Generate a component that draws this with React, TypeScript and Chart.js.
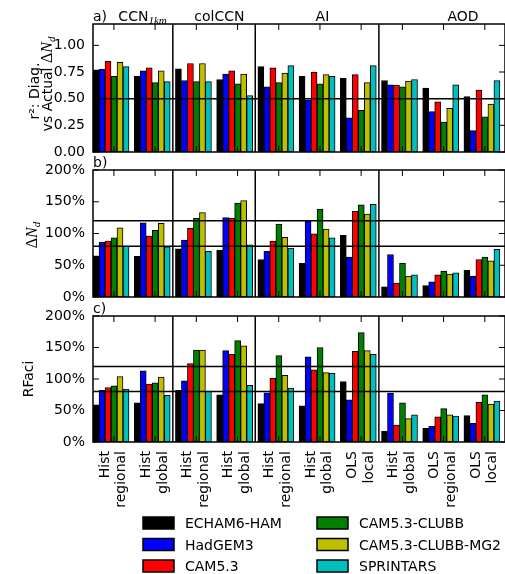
import React, { useEffect, useRef } from "react";
import { Chart, registerables } from "chart.js";

Chart.register(...registerables);

// ---------------- data ----------------
const models = ["ECHAM6-HAM", "HadGEM3", "CAM5.3", "CAM5.3-CLUBB", "CAM5.3-CLUBB-MG2", "SPRINTARS"];
const modelColors = ["#000000", "#0000ff", "#ff0000", "#008000", "#bfbf00", "#00bfbf"];

const methods: string[][] = [
  ["Hist", "regional"],
  ["Hist", "global"],
  ["Hist", "regional"],
  ["Hist", "global"],
  ["Hist", "regional"],
  ["Hist", "global"],
  ["OLS", "local"],
  ["Hist", "global"],
  ["OLS", "regional"],
  ["OLS", "local"],
];

const sectionNames = ["CCN", "colCCN", "AI", "AOD"];
const sectionBreaks = [1.5, 3.5, 6.5];

// r^2 diagnosed vs actual dNd (panel a), one row per model
const r2ByModel: number[][] = [
  [0.77, 0.71, 0.78, 0.68, 0.8, 0.71, 0.69, 0.67, 0.6, 0.52],
  [0.775, 0.76, 0.67, 0.73, 0.61, 0.49, 0.32, 0.63, 0.38, 0.2],
  [0.85, 0.79, 0.83, 0.76, 0.79, 0.75, 0.725, 0.625, 0.47, 0.58],
  [0.71, 0.65, 0.66, 0.64, 0.65, 0.64, 0.39, 0.61, 0.28, 0.33],
  [0.84, 0.76, 0.83, 0.73, 0.74, 0.725, 0.65, 0.665, 0.41, 0.45],
  [0.8, 0.66, 0.66, 0.53, 0.81, 0.71, 0.81, 0.68, 0.63, 0.67],
];

// dNd (panel b), percent
const dNdByModel: number[][] = [
  [65, 64, 76, 74, 59, 53, 97, 16, 18, 42],
  [86, 117, 89.5, 125, 72, 119.5, 63, 67, 24, 33],
  [88, 96, 108, 124, 88, 99.5, 135, 22, 35, 59],
  [93, 105, 124, 148, 115, 138, 145, 53, 41, 63],
  [109, 116, 133, 152, 94, 107, 130.5, 33, 36, 57],
  [80, 79, 72, 82, 77, 93, 146, 35, 38, 75],
];

// RFaci (panel c), percent
const rfaciByModel: number[][] = [
  [59, 62, 82, 75, 61, 57.5, 96, 17, 21.6, 42],
  [82, 113, 97, 145, 78, 135, 67, 77.5, 25, 29.5],
  [86.5, 92, 124.5, 139, 101, 114.5, 144, 27, 40, 63],
  [89, 94, 146, 161, 137, 150, 173.6, 62, 53, 75],
  [104, 103, 146, 152.5, 106, 110, 145, 37, 43, 60],
  [84, 74, 81, 90, 85.5, 109, 139, 43, 41, 65],
];

const r2RefLines = [0.5];
const pctRefLines = [80, 120];

// ---------------- style / layout ----------------
const W = 505;
const H = 574;
const Y_AXIS_WIDTH = 93;
const X_MIN = -0.437;
const X_MAX = 9.56;
const LABEL_SHIFT = -0.146;
const TICK_SHIFT = 0.07;
const SECTION_LABEL_POS = [0.765, 2.63, 5.13, 8.54];
const SANS = "'DejaVu Sans'";
const SERIF = "'Liberation Serif'";
const F = (size: number, italic = false, fam = SANS) => `${italic ? "italic " : ""}${size}px ${fam}`;

type Run = { t: string; font: string; dy?: number };
type TitleLine = { runs: Run[]; x: number; y: number };

const deltaNd = (size: number, sub: number): Run[] => [
  { t: "Δ", font: F(size, false, SERIF) },
  { t: "N", font: F(size, true, SERIF) },
  { t: "d", font: F(sub, true, SERIF), dy: 3 },
];

interface Panel {
  values: number[][];
  yMax: number;
  yStep: number;
  fmt: (v: number) => string;
  refs: number[];
  top: number;
  bottom: number;
  letter: string;
  yTitle: TitleLine[];
  showX: boolean;
  sections: boolean;
  legend: boolean;
}

function drawRuns(ctx: CanvasRenderingContext2D, runs: Run[], x: number, y: number, rotated: boolean, center: boolean) {
  ctx.save();
  ctx.translate(x, y);
  if (rotated) ctx.rotate(-Math.PI / 2);
  ctx.textBaseline = "alphabetic";
  ctx.textAlign = "left";
  ctx.fillStyle = "#000";
  const widths = runs.map((r) => {
    ctx.font = r.font;
    return ctx.measureText(r.t).width;
  });
  const total = widths.reduce((a, b) => a + b, 0);
  let cx = center ? -total / 2 : 0;
  runs.forEach((r, i) => {
    ctx.font = r.font;
    ctx.fillText(r.t, cx, r.dy || 0);
    cx += widths[i];
  });
  ctx.restore();
}

function makePlugin(p: Panel) {
  const line = (ctx: CanvasRenderingContext2D, x1: number, y1: number, x2: number, y2: number) => {
    ctx.beginPath();
    ctx.moveTo(x1, y1);
    ctx.lineTo(x2, y2);
    ctx.stroke();
  };
  return {
    id: "frame",
    afterDatasetsDraw(chart: any) {
      const { ctx, chartArea: a, scales } = chart;
      const xs = scales.x;
      const ys = scales.y;
      ctx.save();
      ctx.strokeStyle = "#000";
      ctx.lineWidth = 1.5;
      p.refs.forEach((v) => {
        const py = ys.getPixelForValue(v);
        line(ctx, a.left, py, a.right, py);
      });
      sectionBreaks.forEach((v) => {
        const px = xs.getPixelForValue(v);
        line(ctx, px, a.top, px, a.bottom);
      });
      ctx.lineWidth = 1;
      ys.ticks.forEach((t: any) => {
        const py = ys.getPixelForValue(t.value);
        line(ctx, a.left, py, a.left + 6, py);
        line(ctx, a.right - 6, py, a.right, py);
      });
      methods.forEach((_, i) => {
        const px = xs.getPixelForValue(i + TICK_SHIFT);
        line(ctx, px, a.top, px, a.top + 6);
        line(ctx, px, a.bottom - 6, px, a.bottom);
      });
      ctx.lineWidth = 1.5;
      ctx.strokeRect(a.left, a.top, a.right - a.left, a.bottom - a.top);
      ctx.restore();
    },
    afterDraw(chart: any) {
      const { ctx, chartArea: a, scales } = chart;
      const xs = scales.x;
      ctx.save();
      // panel letter
      drawRuns(ctx, [{ t: p.letter, font: F(14) }], a.left, a.top - 3, false, false);
      // y title
      p.yTitle.forEach((l) => drawRuns(ctx, l.runs, l.x, l.y, true, true));
      // section titles
      if (p.sections) {
        sectionNames.forEach((name, i) => {
          const px = xs.getPixelForValue(SECTION_LABEL_POS[i]);
          const runs: Run[] =
            i === 0
              ? [
                  { t: name, font: F(14) },
                  { t: "1km", font: F(11, true, SERIF), dy: 3 },
                ]
              : [{ t: name, font: F(14) }];
          drawRuns(ctx, runs, px, a.top - 3, false, true);
        });
      }
      // legend
      if (p.legend) {
        const colX = [143, 317];
        const rowY = [523, 544.5, 566];
        models.forEach((m, i) => {
          const col = Math.floor(i / 3);
          const row = i % 3;
          const bx = colX[col];
          const cy = rowY[row];
          ctx.fillStyle = modelColors[i];
          ctx.fillRect(bx, cy - 6, 31, 12);
          ctx.strokeStyle = "#000";
          ctx.lineWidth = 1.5;
          ctx.strokeRect(bx, cy - 6, 31, 12);
          drawRuns(ctx, [{ t: m, font: F(14) }], bx + 42, cy + 5, false, false);
        });
      }
      ctx.restore();
    },
  };
}

function buildConfig(p: Panel): any {
  return {
    type: "bar",
    data: {
      datasets: models.map((m, mi) => ({
        label: m,
        data: p.values[mi].map((v, i) => ({ x: i, y: v })),
        backgroundColor: modelColors[mi],
        borderColor: "#000000",
        borderWidth: 1,
        borderSkipped: false,
        barThickness: 6,
      })),
    },
    options: {
      responsive: false,
      animation: false,
      devicePixelRatio: 1,
      layout: { padding: { top: p.top, bottom: p.showX ? 0 : H - p.bottom, left: 0, right: 0 } },
      plugins: { legend: { display: false }, tooltip: { enabled: false }, title: { display: false } },
      scales: {
        x: {
          type: "linear",
          min: X_MIN,
          max: X_MAX,
          offset: false,
          bounds: "data",
          display: p.showX,
          grid: { display: false, drawTicks: false, offset: false },
          border: { display: false },
          afterBuildTicks: (s: any) => {
            s.ticks = methods.map((_, i) => ({ value: i + LABEL_SHIFT }));
          },
          afterFit: (s: any) => {
            s.paddingLeft = 0;
            s.paddingRight = 0;
            if (p.showX) s.height = H - p.bottom;
          },
          ticks: {
            autoSkip: false,
            minRotation: 90,
            maxRotation: 90,
            padding: 9,
            color: "#000",
            font: { family: "DejaVu Sans", size: 14 },
            callback: (_v: any, i: number) => methods[i],
          },
        },
        y: {
          min: 0,
          max: p.yMax,
          grid: { display: false, drawTicks: false },
          border: { display: false },
          afterFit: (s: any) => {
            s.width = Y_AXIS_WIDTH;
            s.paddingTop = 0;
            s.paddingBottom = 0;
          },
          ticks: {
            stepSize: p.yStep,
            includeBounds: false,
            padding: 8,
            color: "#000",
            font: { family: "DejaVu Sans", size: 14 },
            callback: (v: any) => p.fmt(Number(v)),
          },
        },
      },
    },
    plugins: [makePlugin(p)],
  };
}

const pct = (v: number) => `${Math.round(v)}%`;

const panels: Panel[] = [
  {
    values: r2ByModel,
    yMax: 1.2,
    yStep: 0.25,
    fmt: (v) => v.toFixed(2),
    refs: r2RefLines,
    top: 24,
    bottom: 152,
    letter: "a)",
    yTitle: [
      { runs: [{ t: "r²: Diag.", font: F(14) }], x: 39, y: 91 },
      { runs: [{ t: "vs Actual ", font: F(14) }, ...deltaNd(16, 11)], x: 52, y: 84 },
    ],
    showX: false,
    sections: true,
    legend: false,
  },
  {
    values: dNdByModel,
    yMax: 200,
    yStep: 50,
    fmt: pct,
    refs: pctRefLines,
    top: 170,
    bottom: 297,
    letter: "b)",
    yTitle: [{ runs: deltaNd(16, 11), x: 37, y: 235 }],
    showX: false,
    sections: false,
    legend: false,
  },
  {
    values: rfaciByModel,
    yMax: 200,
    yStep: 50,
    fmt: pct,
    refs: pctRefLines,
    top: 316,
    bottom: 442,
    letter: "c)",
    yTitle: [{ runs: [{ t: "RFaci", font: F(14) }], x: 33, y: 379 }],
    showX: true,
    sections: false,
    legend: true,
  },
];

function PanelCanvas({ panel }: { panel: Panel }) {
  const ref = useRef<HTMLCanvasElement | null>(null);
  useEffect(() => {
    if (!ref.current) return;
    const chart = new Chart(ref.current, buildConfig(panel));
    return () => chart.destroy();
  }, [panel]);
  return (
    <canvas
      ref={ref}
      width={W}
      height={H}
      style={{ position: "absolute", left: 0, top: 0, width: W, height: H }}
    />
  );
}

export default function App() {
  return (
    <div style={{ position: "absolute", left: 0, top: 0, width: W, height: H, overflow: "hidden", background: "#fff" }}>
      {panels.map((p, i) => (
        <PanelCanvas key={i} panel={p} />
      ))}
    </div>
  );
}
